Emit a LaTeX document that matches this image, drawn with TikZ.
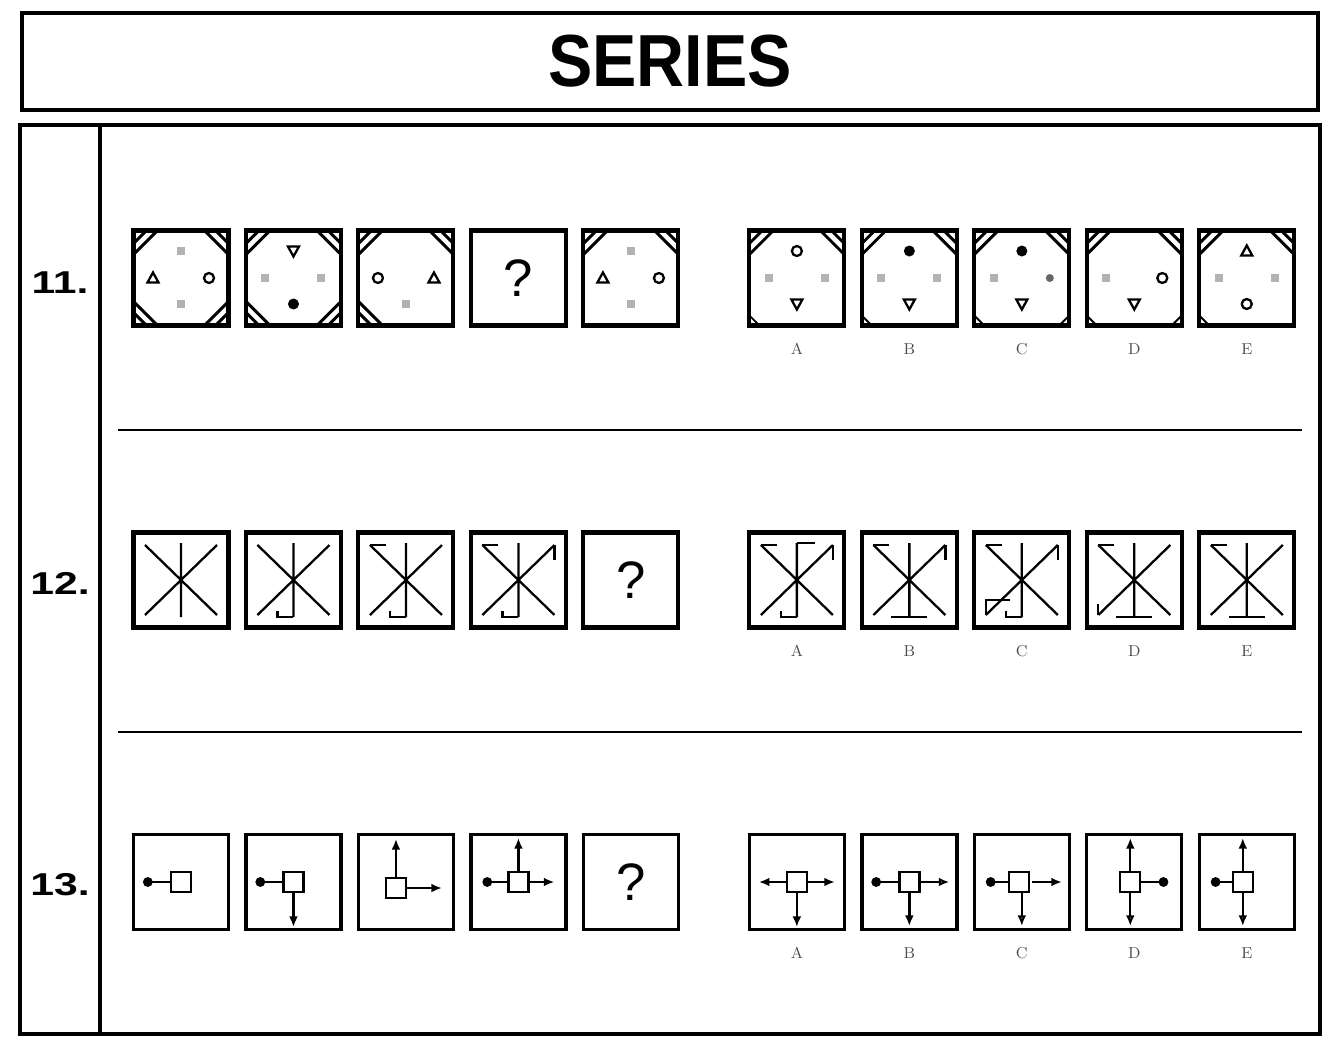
\documentclass[tikz,border=0pt]{standalone}
\usepackage{fontspec}
\usepackage{graphicx}
\setsansfont{Liberation Sans}
\usetikzlibrary{arrows.meta,positioning}
\tikzset{
  cell/.style={draw, line width=2.3pt, minimum size=1.9cm, inner sep=0pt, outer sep=0pt},
  thincell/.style={cell, line width=1.9pt},
  qmark/.style={font=\sffamily\fontsize{30}{30}\selectfont},
  optlabel/.style={font=\small, text=black!70, inner sep=0pt},
  rowlabel/.style={font=\sffamily\bfseries\fontsize{18}{18}\selectfont},
  titlebox/.style={draw, line width=2.3pt, minimum width=25.92cm, minimum height=1.94cm,
    font=\sffamily\bfseries\fontsize{42}{42}\selectfont},
  sepline/.style={line width=1.6pt},
  fig/.style={line width=1.3pt},
  xline/.style={line width=1.3pt},
  tip/.style={fig, -{Latex[length=6pt,width=5pt]}},
  opentip/.style={fig, -{Latex[open,length=6pt,width=5pt]}},
  knob/.style={fig, -{Circle[length=5.5pt]}},
  pics/stripe/.style={code={
    \draw[line width=1.7pt] (-47,-35) -- (-35,-47);
    \draw[line width=1.7pt] (-47,-24) -- (-24,-47);}},
  pics/nick/.style={code={\draw[line width=1.1pt] (-47,-38) -- (-38,-47);}},
  pics/tri/.style={code={\draw[fig] (-5.5,4.5) -- (5.5,4.5) -- (0,-5.5) -- cycle;}},
  pics/vtri/.style={code={\draw[fig] (-5.5,-4.5) -- (5.5,-4.5) -- (0,5.5) -- cycle;}},
  pics/ring/.style={code={\draw[fig] (0,0) circle (5);}},
  pics/blob/.style={code={\fill (0,0) circle (5.5);}},
  pics/ghost/.style={code={\fill[black!30] (-4,-4) rectangle (4,4);}},
  pics/star/.style={code={\draw[xline] (-36,-35) -- (36,35) (-36,35) -- (36,-35) (0,-37) -- (0,37);}},
  pics/hub/.style={code={\draw[fig, fill=white] (-10,-10) rectangle (10,10);}}
}

\begin{document}
\begin{tikzpicture}[x=0.02cm, y=-0.02cm, node distance=0.35cm]
  \useasboundingbox (0,0) rectangle (1330,1038);

  \node[titlebox] (title) at (670,61.5) {\scalebox{0.9}[1]{SERIES}};
  \draw[line width=1.8pt] (20,125) rectangle (1320,1034);
  \draw[line width=1.8pt] (100,125) -- (100,1034);
  \draw[sepline] (118,430) -- (1302,430);
  \draw[sepline] (118,732) -- (1302,732);

  \node[rowlabel] (n11) at (60,283) {\scalebox{1.35}[1]{11.}};
  \node[rowlabel] (n12) at (60,583) {\scalebox{1.35}[1]{12.}};
  \node[rowlabel] (n13) at (60,885) {\scalebox{1.35}[1]{13.}};

  % row 11
  \node[cell] (p11a) at (181,278) {};
  \node[cell, right=of p11a] (p11b) {};
  \node[cell, right=of p11b] (p11c) {};
  \node[cell, qmark, right=of p11c] (p11d) {?};
  \node[cell, right=of p11d] (p11e) {};
  \node[cell, right=1.42cm of p11e] (o11a) {};
  \node[cell, right=of o11a] (o11b) {};
  \node[cell, right=of o11b] (o11c) {};
  \node[cell, right=of o11c] (o11d) {};
  \node[cell, right=of o11d] (o11e) {};
  \node[optlabel, below=of o11a] (l11a) {A};
  \node[optlabel, below=of o11b] (l11b) {B};
  \node[optlabel, below=of o11c] (l11c) {C};
  \node[optlabel, below=of o11d] (l11d) {D};
  \node[optlabel, below=of o11e] (l11e) {E};

  \begin{scope}[shift={(p11a.center)}]
    \foreach \a in {0,-90,90,180} \pic[rotate=\a] at (0,0) {stripe};
    \pic at (0,-27) {ghost}; \pic at (-28,0) {tri}; \pic at (28,0) {ring}; \pic at (0,26) {ghost};
  \end{scope}
  \begin{scope}[shift={(p11b.center)}]
    \foreach \a in {0,-90,90,180} \pic[rotate=\a] at (0,0) {stripe};
    \pic at (0,-27) {vtri}; \pic at (-28,0) {ghost}; \pic at (28,0) {ghost}; \pic at (0,26) {blob};
  \end{scope}
  \begin{scope}[shift={(p11c.center)}]
    \foreach \a in {0,-90,90} \pic[rotate=\a] at (0,0) {stripe};
    \pic at (-28,0) {ring}; \pic at (28,0) {tri}; \pic at (0,26) {ghost};
  \end{scope}
  \begin{scope}[shift={(p11e.center)}]
    \foreach \a in {0,-90} \pic[rotate=\a] at (0,0) {stripe};
    \pic at (0,-27) {ghost}; \pic at (-28,0) {tri}; \pic at (28,0) {ring}; \pic at (0,26) {ghost};
  \end{scope}
  \begin{scope}[shift={(o11a.center)}]
    \foreach \a in {0,-90} \pic[rotate=\a] at (0,0) {stripe};
    \pic[rotate=90] at (0,0) {nick};
    \pic at (0,-27) {ring}; \pic at (-28,0) {ghost}; \pic at (28,0) {ghost}; \pic at (0,26) {vtri};
  \end{scope}
  \begin{scope}[shift={(o11b.center)}]
    \foreach \a in {0,-90} \pic[rotate=\a] at (0,0) {stripe};
    \pic[rotate=90] at (0,0) {nick};
    \pic at (0,-27) {blob}; \pic at (-28,0) {ghost}; \pic at (28,0) {ghost}; \pic at (0,26) {vtri};
  \end{scope}
  \begin{scope}[shift={(o11c.center)}]
    \foreach \a in {0,-90} \pic[rotate=\a] at (0,0) {stripe};
    \foreach \a in {90,180} \pic[rotate=\a] at (0,0) {nick};
    \pic at (0,-27) {blob}; \pic at (-28,0) {ghost}; \fill[black!60] (28,0) circle (4); \pic at (0,26) {vtri};
  \end{scope}
  \begin{scope}[shift={(o11d.center)}]
    \foreach \a in {0,-90} \pic[rotate=\a] at (0,0) {stripe};
    \foreach \a in {90,180} \pic[rotate=\a] at (0,0) {nick};
    \pic at (-28,0) {ghost}; \pic at (28,0) {ring}; \pic at (0,26) {vtri};
  \end{scope}
  \begin{scope}[shift={(o11e.center)}]
    \foreach \a in {0,-90} \pic[rotate=\a] at (0,0) {stripe};
    \pic[rotate=90] at (0,0) {nick};
    \pic at (0,-27) {tri}; \pic at (-28,0) {ghost}; \pic at (28,0) {ghost}; \pic at (0,26) {ring};
  \end{scope}

  % row 12
  \node[cell] (p12a) at (181,580) {};
  \node[cell, right=of p12a] (p12b) {};
  \node[cell, right=of p12b] (p12c) {};
  \node[cell, right=of p12c] (p12d) {};
  \node[cell, qmark, right=of p12d] (p12e) {?};
  \node[cell, right=1.42cm of p12e] (o12a) {};
  \node[cell, right=of o12a] (o12b) {};
  \node[cell, right=of o12b] (o12c) {};
  \node[cell, right=of o12c] (o12d) {};
  \node[cell, right=of o12d] (o12e) {};
  \node[optlabel, below=of o12a] (l12a) {A};
  \node[optlabel, below=of o12b] (l12b) {B};
  \node[optlabel, below=of o12c] (l12c) {C};
  \node[optlabel, below=of o12d] (l12d) {D};
  \node[optlabel, below=of o12e] (l12e) {E};

  \begin{scope}[shift={(p12a.center)}]
    \pic at (0,0) {star};
  \end{scope}
  \begin{scope}[shift={(p12b.center)}]
    \pic at (0,0) {star};
    \draw[xline] (0,37) -- (-16,37) -- (-16,31);
  \end{scope}
  \begin{scope}[shift={(p12c.center)}]
    \pic at (0,0) {star};
    \draw[xline] (0,37) -- (-16,37) -- (-16,31);
    \draw[xline] (-36,-35) -- (-20,-35);
  \end{scope}
  \begin{scope}[shift={(p12d.center)}]
    \pic at (0,0) {star};
    \draw[xline] (0,37) -- (-16,37) -- (-16,31);
    \draw[xline] (-36,-35) -- (-20,-35);
    \draw[xline] (36,-35) -- (36,-20);
  \end{scope}
  \begin{scope}[shift={(o12a.center)}]
    \pic at (0,0) {star};
    \draw[xline] (0,37) -- (-16,37) -- (-16,31);
    \draw[xline] (-36,-35) -- (-20,-35);
    \draw[xline] (36,-35) -- (36,-20);
    \draw[xline] (0,-37) -- (18,-37);
  \end{scope}
  \begin{scope}[shift={(o12b.center)}]
    \pic at (0,0) {star};
    \draw[xline] (-18,37) -- (18,37);
    \draw[xline] (-36,-35) -- (-20,-35);
    \draw[xline] (36,-35) -- (36,-20);
  \end{scope}
  \begin{scope}[shift={(o12c.center)}]
    \pic at (0,0) {star};
    \draw[xline] (0,37) -- (-16,37) -- (-16,31);
    \draw[xline] (-36,-35) -- (-20,-35);
    \draw[xline] (36,-35) -- (36,-20);
    \draw[xline] (-36,35) -- (-36,20) -- (-12,20);
  \end{scope}
  \begin{scope}[shift={(o12d.center)}]
    \pic at (0,0) {star};
    \draw[xline] (-18,37) -- (18,37);
    \draw[xline] (-36,-35) -- (-20,-35);
    \draw[xline] (-36,35) -- (-36,24);
  \end{scope}
  \begin{scope}[shift={(o12e.center)}]
    \pic at (0,0) {star};
    \draw[xline] (-18,37) -- (18,37);
    \draw[xline] (-36,-35) -- (-20,-35);
  \end{scope}

  % row 13
  \node[thincell] (p13a) at (181,882) {};
  \node[thincell, right=of p13a] (p13b) {};
  \node[thincell, right=of p13b] (p13c) {};
  \node[thincell, right=of p13c] (p13d) {};
  \node[thincell, qmark, right=of p13d] (p13e) {?};
  \node[thincell, right=1.42cm of p13e] (o13a) {};
  \node[thincell, right=of o13a] (o13b) {};
  \node[thincell, right=of o13b] (o13c) {};
  \node[thincell, right=of o13c] (o13d) {};
  \node[thincell, right=of o13d] (o13e) {};
  \node[optlabel, below=of o13a] (l13a) {A};
  \node[optlabel, below=of o13b] (l13b) {B};
  \node[optlabel, below=of o13c] (l13c) {C};
  \node[optlabel, below=of o13d] (l13d) {D};
  \node[optlabel, below=of o13e] (l13e) {E};

  \begin{scope}[shift={(p13a.center)}]
    \draw[knob] (-10,0) -- (-38,0);
    \pic at (0,0) {hub};
  \end{scope}
  \begin{scope}[shift={(p13b.center)}]
    \draw[knob] (-10,0) -- (-38,0);
    \draw[tip] (0,10) -- (0,45);
    \pic at (0,0) {hub};
  \end{scope}
  \begin{scope}[shift={(p13c.center)}]
    \draw[tip] (-10,-4) -- (-10,-43);
    \draw[tip] (0,6) -- (36,6);
    \pic at (-10,6) {hub};
  \end{scope}
  \begin{scope}[shift={(p13d.center)}]
    \draw[knob] (-10,0) -- (-36,0);
    \draw[tip] (10,0) -- (36,0);
    \draw[tip] (0,-10) -- (0,-44);
    \pic at (0,0) {hub};
  \end{scope}
  \begin{scope}[shift={(o13a.center)}]
    \draw[tip] (-10,0) -- (-38,0);
    \draw[tip] (10,0) -- (38,0);
    \draw[tip] (0,10) -- (0,45);
    \pic at (0,0) {hub};
  \end{scope}
  \begin{scope}[shift={(o13b.center)}]
    \draw[knob] (-10,0) -- (-38,0);
    \draw[opentip] (10,0) -- (40,0);
    \draw[tip] (0,10) -- (0,44);
    \pic at (0,0) {hub};
  \end{scope}
  \begin{scope}[shift={(o13c.center)}]
    \draw[knob] (-10,0) -- (-36,0);
    \draw[tip] (10,0) -- (40,0);
    \draw[opentip] (0,10) -- (0,44);
    \pic at (-3,0) {hub};
  \end{scope}
  \begin{scope}[shift={(o13d.center)}]
    \draw[tip] (-4,-10) -- (-4,-44);
    \draw[knob] (6,0) -- (34,0);
    \draw[opentip] (-4,10) -- (-4,44);
    \pic at (-4,0) {hub};
  \end{scope}
  \begin{scope}[shift={(o13e.center)}]
    \draw[knob] (-14,0) -- (-36,0);
    \draw[tip] (-4,-10) -- (-4,-44);
    \draw[opentip] (-4,10) -- (-4,44);
    \pic at (-4,0) {hub};
  \end{scope}
\end{tikzpicture}
\end{document}
